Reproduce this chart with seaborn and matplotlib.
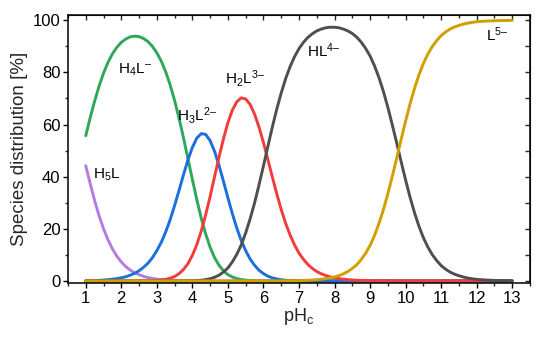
import numpy as np
import pandas as pd
import matplotlib
matplotlib.use('Agg')
import matplotlib.pyplot as plt
import seaborn as sns
from matplotlib.ticker import MultipleLocator

# pH grid and species fractions (%)
ph = [1.0, 1.125, 1.25, 1.375, 1.5, 1.625, 1.75, 1.875, 2.0,
      2.125, 2.25, 2.375, 2.5, 2.625, 2.75, 2.875, 3.0,
      3.125, 3.25, 3.375, 3.5, 3.625, 3.75, 3.875, 4.0,
      4.125, 4.25, 4.375, 4.5, 4.625, 4.75, 4.875, 5.0,
      5.125, 5.25, 5.375, 5.5, 5.625, 5.75, 5.875, 6.0,
      6.125, 6.25, 6.375, 6.5, 6.625, 6.75, 6.875, 7.0,
      7.125, 7.25, 7.375, 7.5, 7.625, 7.75, 7.875, 8.0,
      8.125, 8.25, 8.375, 8.5, 8.625, 8.75, 8.875, 9.0,
      9.125, 9.25, 9.375, 9.5, 9.625, 9.75, 9.875, 10.0,
      10.125, 10.25, 10.375, 10.5, 10.625, 10.75, 10.875, 11.0,
      11.125, 11.25, 11.375, 11.5, 11.625, 11.75, 11.875, 12.0,
      12.125, 12.25, 12.375, 12.5, 12.625, 12.75, 12.875, 13.0]

h5l = ([44.2, 37.3, 30.8, 25.0, 20.0, 15.8, 12.3, 9.5, 7.3,
        5.5, 4.2, 3.1, 2.4, 1.75, 1.3, 0.95, 0.7,
        0.5, 0.4, 0.25, 0.2, 0.12, 0.08, 0.05, 0.03,
        0.02] + [0.0] * 71)

h4l = ([55.7, 62.6, 69.0, 74.7, 79.7, 83.8, 87.1, 89.6, 91.5,
        92.8, 93.6, 93.9, 93.7, 93.0, 91.8, 90.0, 87.5,
        84.3, 80.2, 75.2, 69.2, 62.4, 54.9, 46.9, 38.9,
        31.2, 24.1, 18.0, 12.9, 8.9, 6.0, 3.9, 2.4,
        1.5, 0.9, 0.5, 0.3, 0.15, 0.08, 0.04, 0.02,
        0.01] + [0.0] * 55)

h3l = ([0.07, 0.11, 0.16, 0.23, 0.33, 0.47, 0.65, 0.89, 1.2,
        1.6, 2.2, 2.9, 3.9, 5.2, 6.8, 8.9, 11.6,
        14.8, 18.8, 23.5, 28.9, 34.7, 40.7, 46.4, 51.2,
        54.8, 56.5, 56.2, 53.8, 49.7, 44.3, 38.2, 31.9,
        25.8, 20.3, 15.5, 11.6, 8.4, 6.0, 4.1, 2.8,
        1.8, 1.2, 0.74, 0.45, 0.27, 0.16, 0.1, 0.05,
        0.03, 0.02, 0.01] + [0.0] * 45)

h2l = ([0.0] * 11 +
       [0.01, 0.02, 0.04, 0.07, 0.13, 0.2,
        0.38, 0.6, 1.06, 1.7, 2.8, 4.4, 6.6, 9.8,
        13.9, 19.1, 25.4, 32.4, 40.0, 47.5, 54.5, 60.7,
        65.5, 68.7, 70.2, 69.8, 67.7, 64.0, 59.0, 53.1,
        46.5, 39.9, 33.4, 27.4, 22.1, 17.6, 13.8, 10.7,
        8.3, 6.3, 4.8, 3.6, 2.75, 2.1, 1.56, 1.2,
        0.87, 0.66, 0.49, 0.36, 0.26, 0.2, 0.14, 0.1,
        0.07, 0.06, 0.04, 0.03, 0.02, 0.01] + [0.0] * 26)

hl = ([0.0] * 21 +
      [0.01, 0.02, 0.04, 0.08,
       0.15, 0.28, 0.5, 0.85, 1.4, 2.2, 3.4, 5.0,
       7.3, 10.2, 13.8, 18.4, 23.8, 29.9, 36.8, 44.1,
       51.6, 59.0, 65.9, 72.1, 77.6, 82.2, 86.0, 89.1,
       91.5, 93.4, 94.8, 95.9, 96.6, 97.1, 97.3, 97.3,
       97.1, 96.6, 95.9, 94.9, 93.5, 91.6, 89.2, 86.3,
       82.5, 78.0, 72.7, 66.6, 59.9, 52.9, 45.7, 38.7,
       32.1, 26.2, 21.0, 16.6, 13.0, 10.1, 7.8, 5.9,
       4.5, 3.4, 2.6, 2.0, 1.5, 1.1, 0.83, 0.6,
       0.47, 0.35, 0.27, 0.2, 0.15, 0.11, 0.08, 0.06])

l5 = ([0.0] * 41 +
      [0.01, 0.02, 0.02, 0.04, 0.05, 0.07, 0.1, 0.14,
       0.19, 0.26, 0.36, 0.48, 0.65, 0.86, 1.16, 1.5,
       2.05, 2.7, 3.6, 4.8, 6.2, 8.2, 10.6, 13.6,
       17.4, 22.0, 27.3, 33.4, 40.1, 47.1, 54.3, 61.3,
       67.9, 73.8, 79.0, 83.4, 87.0, 89.9, 92.2, 94.1,
       95.5, 96.6, 97.4, 98.0, 98.5, 98.9, 99.17, 99.4,
       99.53, 99.65, 99.73, 99.8, 99.85, 99.89, 99.92, 99.94])

series = [h5l, h4l, h3l, h2l, hl, l5]
colors = ['#b47be0', '#2ea75c', '#1c6fdc', '#f23c3c', '#4f4f4f', '#d29e00']
labels = [r'H$_5$L', r'H$_4$L$^{–}$', r'H$_3$L$^{2–}$', r'H$_2$L$^{3–}$',
          r'HL$^{4–}$', r'L$^{5–}$']
label_pos = [(1.59, 40.6), (2.38, 80.8), (4.12, 63.6), (5.47, 77.8),
             (7.71, 88.5), (12.57, 94.3)]

sns.set_style('ticks')
plt.rcParams['font.family'] = ['Liberation Sans', 'DejaVu Sans']
plt.rcParams['mathtext.fontset'] = 'custom'
plt.rcParams['mathtext.rm'] = 'Liberation Sans'
plt.rcParams['mathtext.default'] = 'regular'

fig = plt.figure(figsize=(5.5, 3.38), dpi=100)
ax = fig.add_axes([0.1236, 0.1627, 0.84, 0.7929])

for vals, c in zip(series, colors):
    sns.lineplot(x=ph, y=vals, color=c, linewidth=2.1, ax=ax)

for (x, y), lab in zip(label_pos, labels):
    ax.text(x, y, lab, fontsize=11, ha='center', va='center', color='black')

ax.set_xlim(0.5, 13.5)
ax.set_ylim(-0.8, 102)
ax.set_xticks(range(1, 14))
ax.set_yticks(range(0, 101, 20))
ax.xaxis.set_minor_locator(MultipleLocator(0.5))
ax.yaxis.set_minor_locator(MultipleLocator(10))
ax.tick_params(which='major', direction='out', length=3.5, width=1.0,
               labelsize=12, colors='black', pad=2)
ax.tick_params(which='minor', direction='out', length=2, width=1.0)
for s in ax.spines.values():
    s.set_linewidth(1.1)
    s.set_color('black')

top = ax.secondary_xaxis('top')
top.set_xticks(range(1, 14))
top.xaxis.set_minor_locator(MultipleLocator(0.5))
top.tick_params(which='both', direction='in', labeltop=False, width=1.0)
top.tick_params(which='major', length=3.5)
top.tick_params(which='minor', length=2)
right = ax.secondary_yaxis('right')
right.set_yticks(range(0, 101, 20))
right.yaxis.set_minor_locator(MultipleLocator(10))
right.tick_params(which='both', direction='in', labelright=False, width=1.0)
right.tick_params(which='major', length=3.5)
right.tick_params(which='minor', length=3.5)

ax.set_xlabel(r'pH$_c$', fontsize=13, labelpad=0)
ax.set_ylabel('Species distribution [%]', fontsize=13.5, labelpad=3)

fig.savefig('out.png', dpi=100)
